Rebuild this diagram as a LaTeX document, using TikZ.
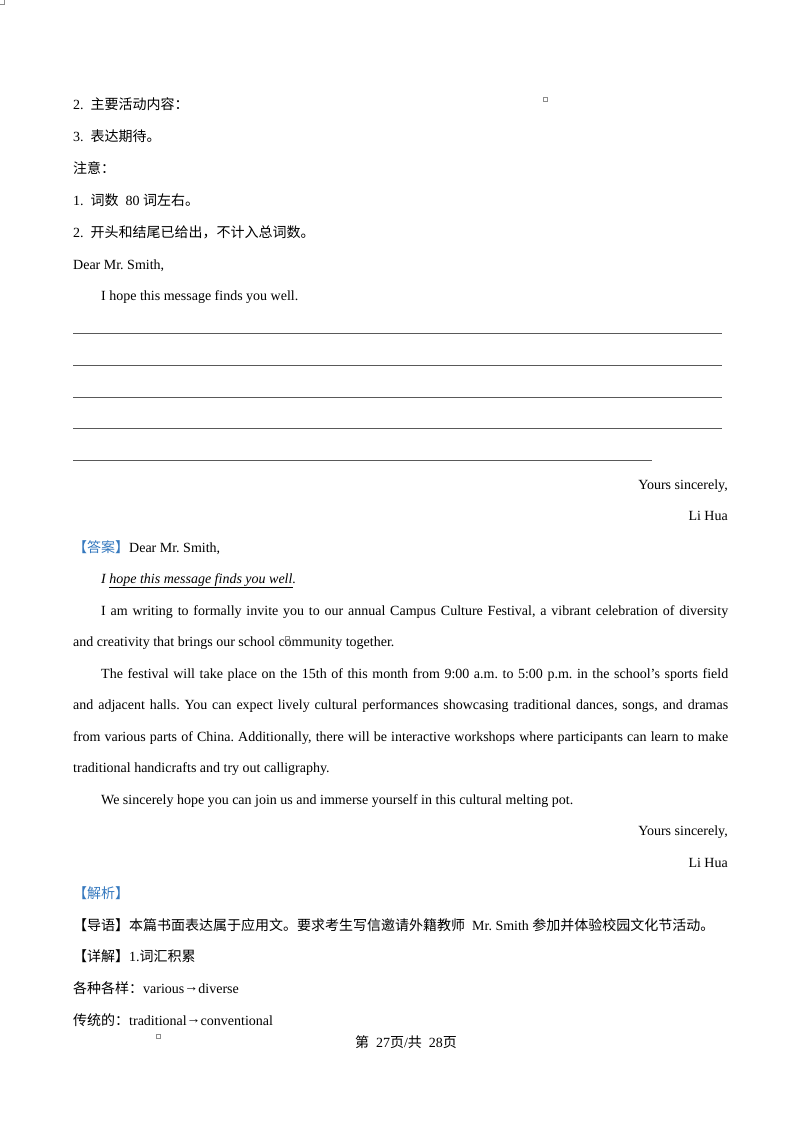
\documentclass[tikz,border=0pt]{standalone}
\usepackage{fontspec}
\setmainfont{Liberation Serif}
\newfontfamily\cjk{Noto Sans CJK SC}
\definecolor{ansblue}{RGB}{52,120,190}
\frenchspacing
\newcommand\fullline[2]{\hbox to #1{#2}}
\newcommand\toarrow{\raisebox{1.8pt}{→}}
\tikzset{
  txt/.style={anchor=base west, inner sep=0pt, font=\fontsize{14}{17}\selectfont},
  rtxt/.style={anchor=base east, inner sep=0pt, font=\fontsize{14}{17}\selectfont},
  blankline/.style={draw=black!65, line width=0.8pt},
  tinybox/.style={draw=black!45, line width=0.4pt}
}
\begin{document}
\begin{tikzpicture}[x=1pt,y=-1pt]
  \useasboundingbox (0,0) rectangle (800,1132);

  % task notes
  \node[txt] (req2) at (73,109) {2.\enspace{\cjk 主要活动内容：}};
  \node[txt] (req3) at (73,141) {3.\enspace{\cjk 表达期待。}};
  \node[txt] (note) at (73,173) {{\cjk 注意：}};
  \node[txt] (note1) at (73,205) {1.\enspace{\cjk 词数}\enspace 80 {\cjk 词左右。}};
  \node[txt] (note2) at (73,237) {2.\enspace{\cjk 开头和结尾已给出，不计入总词数。}};
  \node[txt] (dear) at (73,269) {Dear Mr. Smith,};
  \node[txt] (hope) at (101,300) {I hope this message finds you well.};

  % blank lines to write on
  \foreach \y in {333,365,397,428}
    \draw[blankline] (73,\y) -- (722,\y);
  \draw[blankline] (73,460) -- (652,460);

  \node[rtxt] (yours) at (728,489) {Yours sincerely,};
  \node[rtxt] (name) at (728,520) {Li Hua};

  % answer
  \node[txt] (ans) at (73,552) {{\cjk\color{ansblue}【答案】}Dear Mr. Smith,};
  \node[txt] (ahope) at (101,583) {\textit{I \underline{hope this message finds you well}.}};
  \node[txt] (p1a) at (101,615) {\fullline{627pt}{I am writing to formally invite you to our annual Campus Culture Festival, a vibrant celebration of diversity}};
  \node[txt] (p1b) at (73,646) {and creativity that brings our school community together.};
  \node[txt] (p2a) at (101,678) {\fullline{627pt}{The festival will take place on the 15th of this month from 9:00 a.m. to 5:00 p.m. in the school’s sports field}};
  \node[txt] (p2b) at (73,709) {\fullline{655pt}{and adjacent halls. You can expect lively cultural performances showcasing traditional dances, songs, and dramas}};
  \node[txt] (p2c) at (73,741) {\fullline{655pt}{from various parts of China. Additionally, there will be interactive workshops where participants can learn to make}};
  \node[txt] (p2d) at (73,772) {traditional handicrafts and try out calligraphy.};
  \node[txt] (p3) at (101,804) {We sincerely hope you can join us and immerse yourself in this cultural melting pot.};
  \node[rtxt] (ayours) at (728,835) {Yours sincerely,};
  \node[rtxt] (aname) at (728,867) {Li Hua};

  % analysis
  \node[txt] (jx) at (73,898) {{\cjk\color{ansblue}【解析】}};
  \node[txt] (dy) at (73,930) {{\cjk 【导语】本篇书面表达属于应用文。要求考生写信邀请外籍教师}\enspace Mr. Smith {\cjk 参加并体验校园文化节活动。}};
  \node[txt] (xj) at (73,961) {{\cjk 【详解】}1.{\cjk 词汇积累}};
  \node[txt] (w1) at (73,993) {{\cjk 各种各样：}various\toarrow diverse};
  \node[txt] (w2) at (73,1025) {{\cjk 传统的：}traditional\toarrow conventional};

  % footer
  \node[txt, anchor=base] (foot) at (406,1047) {{\cjk 第}\enspace 27{\cjk 页}/{\cjk 共}\enspace 28{\cjk 页}};

  % stray marks
  \draw[tinybox] (0,4) -- (4,4) -- (4,0);
  \draw[tinybox] (543,97) rectangle (547,101);
  \draw[tinybox] (285,636) rectangle (289,640);
  \draw[tinybox] (156,1034) rectangle (160,1038);
\end{tikzpicture}
\end{document}
